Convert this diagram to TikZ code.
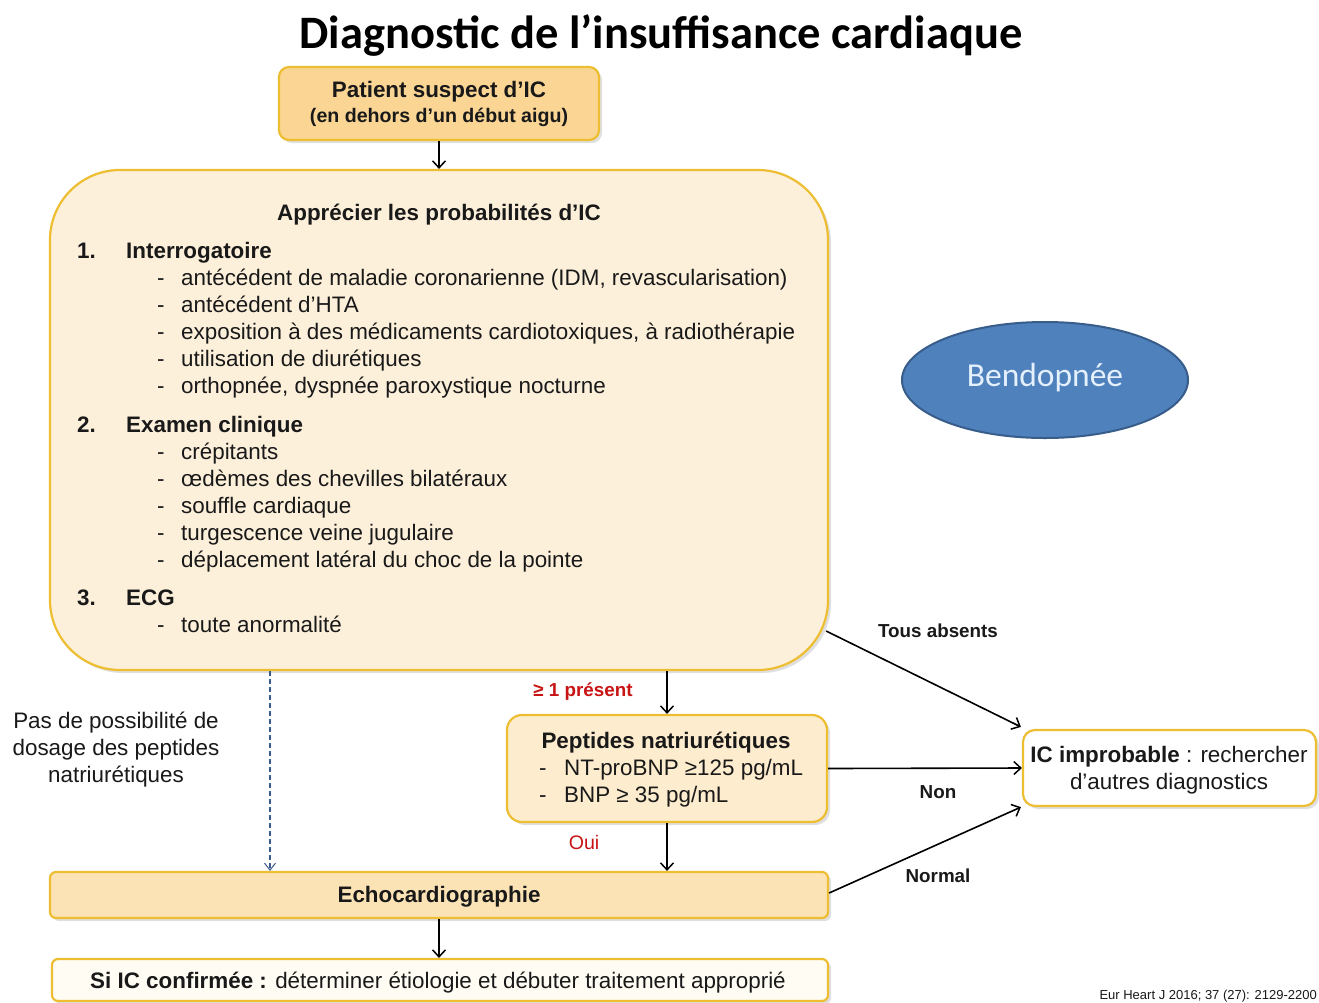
\documentclass[tikz,border=0pt]{standalone}
\usepackage{fontspec}
\setmainfont{Liberation Sans}
\newfontfamily\calib{Carlito}
\usetikzlibrary{arrows.meta,shapes.geometric,shadows,calc}
\definecolor{gold}{RGB}{238,190,50}
\definecolor{bigfill}{RGB}{253,240,219}
\definecolor{topfill}{RGB}{250,213,148}
\definecolor{pepfill}{RGB}{253,236,205}
\definecolor{echofill}{RGB}{252,227,182}
\definecolor{sifill}{RGB}{255,252,243}
\definecolor{ellfill}{RGB}{79,129,189}
\definecolor{elldraw}{RGB}{56,93,138}
\definecolor{elltext}{RGB}{228,240,252}
\definecolor{txt}{RGB}{25,25,25}
\definecolor{redlab}{RGB}{200,20,20}
\definecolor{dashblue}{RGB}{60,90,140}
\begin{document}
\begin{tikzpicture}[x=1pt,y=-1pt,
  box/.style={draw=gold,line width=2.2pt,rounded corners=12pt,inner sep=0pt,
    drop shadow={opacity=0.25,shadow xshift=3pt,shadow yshift=-3pt}},
  arr/.style={draw=black,line width=1.6pt,-{Straight Barb[length=7pt,width=13pt,line width=1.5pt]}},
  darr/.style={draw=dashblue,line width=1.1pt,dashed,dash pattern=on 5pt off 3pt,-{Straight Barb[length=7pt,width=11pt,line width=1pt]}},
  f20/.style={font=\fontsize{22.4}{27}\selectfont,text=txt,inner sep=0pt,yshift=-5pt},
  f20b/.style={font=\fontsize{22.4}{27}\selectfont\bfseries,text=txt,inner sep=0pt,yshift=-5pt},
  lab/.style={font=\fontsize{18.8}{22}\selectfont\bfseries,text=txt,inner sep=0pt,yshift=-4pt},
]
\useasboundingbox (0,0) rectangle (1319,1002);
\fill[white] (0,0) rectangle (1319,1002);

% title
\node[font=\calib\fontsize{46.5}{54}\selectfont\bfseries,text=black,inner sep=0pt] (title) at (661,36) {Diagnostic de l’insuffisance cardiaque};

% boxes
\node[box,fill=topfill,rounded corners=10pt,minimum width=320pt,minimum height=73pt] (top) at (439,103.5) {};
\node[box,fill=bigfill,rounded corners=70pt,minimum width=778pt,minimum height=500pt] (big) at (439,420) {};
\node[box,fill=pepfill,rounded corners=15pt,minimum width=320pt,minimum height=107pt] (pep) at (667,768.5) {};
\node[box,fill=white,rounded corners=12pt,minimum width=293pt,minimum height=76pt] (imp) at (1169.5,768) {};
\node[box,fill=echofill,rounded corners=6pt,minimum width=778pt,minimum height=46pt] (echo) at (439,895) {};
\node[box,fill=sifill,rounded corners=6pt,minimum width=776pt,minimum height=42pt] (si) at (440,980) {};
\node[ellipse,draw=elldraw,line width=2pt,fill=ellfill,minimum width=286pt,minimum height=116pt,inner sep=0pt] (bend) at (1045,380) {};
\node[font=\calib\fontsize{33.5}{40}\selectfont,text=elltext,inner sep=0pt,anchor=mid,yshift=-4pt] (bendt) at (bend.center) {Bendopnée};

% top box text
\node[f20b,anchor=mid] (t1) at (439,90) {Patient suspect d’IC};
\node[font=\fontsize{19.6}{23}\selectfont\bfseries,text=txt,inner sep=0pt,anchor=mid,yshift=-4pt] (t2) at (439,116) {(en dehors d’un début aigu)};

% big box text
\node[f20b,anchor=mid] (h0) at (439,213) {Apprécier les probabilités d’IC};
\node[f20b,anchor=mid west] (n1) at (77,251) {1.};
\node[f20b,anchor=mid west] (h1) at (126,251) {Interrogatoire};
\foreach \y/\t [count=\i] in {278/{antécédent de maladie coronarienne (IDM, revascularisation)},
  305/{antécédent d’HTA},
  332/{exposition à des médicaments cardiotoxiques, à radiothérapie},
  359/{utilisation de diurétiques},
  386/{orthopnée, dyspnée paroxystique nocturne}}{
  \node[f20,anchor=mid west] (da\i) at (157,\y) {-};
  \node[f20,anchor=mid west] (a\i) at (181,\y) {\t};
}
\node[f20b,anchor=mid west] (n2) at (77,425) {2.};
\node[f20b,anchor=mid west] (h2) at (126,425) {Examen clinique};
\foreach \y/\t [count=\i] in {452/{crépitants},
  479/{œdèmes des chevilles bilatéraux},
  506/{souffle cardiaque},
  533/{turgescence veine jugulaire},
  560/{déplacement latéral du choc de la pointe}}{
  \node[f20,anchor=mid west] (db\i) at (157,\y) {-};
  \node[f20,anchor=mid west] (b\i) at (181,\y) {\t};
}
\node[f20b,anchor=mid west] (n3) at (77,598) {3.};
\node[f20b,anchor=mid west] (h3) at (126,598) {ECG};
\node[f20,anchor=mid west] (dc1) at (157,625) {-};
\node[f20,anchor=mid west] (c1) at (181,625) {toute anormalité};

% peptides text
\node[f20b,anchor=mid] (p0) at (666,741) {Peptides natriurétiques};
\node[f20,anchor=mid west] (dp1) at (539,768) {-};
\node[f20,anchor=mid west] (p1) at (564,768) {NT-proBNP ≥125 pg/mL};
\node[f20,anchor=mid west] (dp2) at (539,795) {-};
\node[f20,anchor=mid west] (p2) at (564,795) {BNP ≥ 35 pg/mL};

% IC improbable text
\node[f20,anchor=mid] (i1) at (1169,755) {\textbf{IC improbable} : rechercher};
\node[f20,anchor=mid] (i2) at (1169,782) {d’autres diagnostics};

% echo and si
\node[f20b,anchor=mid] (e1) at (439,895) {Echocardiographie};
\node[f20,anchor=mid] (s1) at (438,981) {\textbf{Si IC confirmée :} déterminer étiologie et débuter traitement approprié};

% left text
\node[f20,align=center,anchor=center,yshift=3pt] (pas) at (116,748) {Pas de possibilité de\\dosage des peptides\\natriurétiques};

% citation
\node[font=\fontsize{13}{15}\selectfont,text=txt,inner sep=0pt,anchor=base east] (cit) at (1317,999) {Eur Heart J 2016; 37 (27): 2129-2200};

% connectors
\draw[arr] (top.south) -- (big.north);
\draw[arr] (pep.north |- big.south) -- (pep.north);
\draw[arr] (pep.south) -- (pep.south |- echo.north);
\draw[arr] (echo.south) -- (echo.south |- si.north);
\draw[darr] ([xshift=-169pt]big.south) -- ([xshift=-169pt]echo.north);
\draw[arr] ([xshift=-3pt,yshift=-211pt]big.east) -- ([xshift=-1pt,yshift=2pt]imp.north west);
\draw[arr] (pep.east) -- (imp.west);
\draw[arr] ([yshift=2pt]echo.east) -- ([xshift=-1pt]imp.south west);

% labels
\node[lab,anchor=mid] (l1) at (938,631) {Tous absents};
\node[lab,anchor=mid] (l2) at (938,792) {Non};
\node[lab,anchor=mid] (l3) at (938,876) {Normal};
\node[lab,text=redlab,anchor=mid] (l4) at (583,690) {≥ 1 présent};
\node[font=\fontsize{19.6}{23}\selectfont,text=redlab,inner sep=0pt,anchor=mid,yshift=-4pt] (l5) at (584,843) {Oui};
\end{tikzpicture}
\end{document}
